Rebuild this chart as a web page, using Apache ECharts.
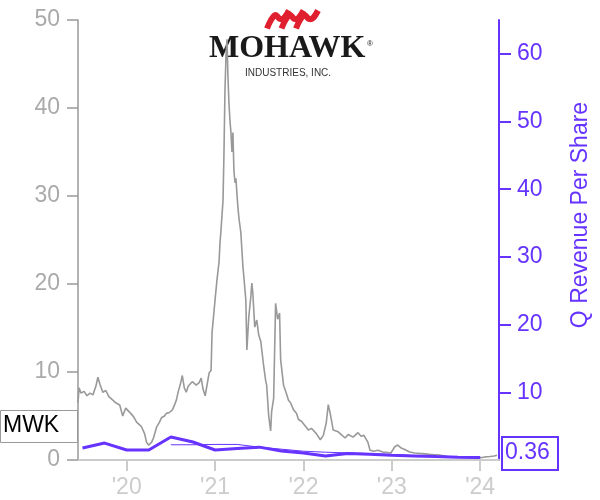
<!DOCTYPE html>
<html>
<head>
<meta charset="utf-8">
<script src="https://cdn.jsdelivr.net/npm/echarts@6/dist/echarts.min.js"></script>
<style>html,body{margin:0;padding:0;background:#fff}#c{width:600px;height:500px}</style>
</head>
<body>
<div id="c"></div>
<script>
// ---- data (x values are decimal years) ----
const ticker = 'MWK';
const yearTicks = [2020, 2021, 2022, 2023, 2024];
const xStart = 2019.449;
const xEnd = 2024.213;
const priceYears = [
 2019.449,2019.461,2019.483,2019.517,2019.551,2019.584,2019.618,2019.652,2019.674,2019.697,
 2019.730,2019.764,2019.798,2019.843,2019.876,2019.921,2019.955,2019.989,2020.011,2020.045,
 2020.079,2020.112,2020.146,2020.169,2020.202,2020.225,2020.247,2020.258,2020.281,2020.303,
 2020.337,2020.371,2020.393,2020.427,2020.449,2020.483,2020.517,2020.539,2020.562,2020.584,
 2020.607,2020.629,2020.652,2020.674,2020.697,2020.719,2020.742,2020.764,2020.787,2020.820,
 2020.843,2020.865,2020.888,2020.910,2020.933,2020.955,2020.966,2020.989,2021.000,2021.022,
 2021.045,2021.056,2021.067,2021.090,2021.101,2021.112,2021.124,2021.135,2021.146,2021.157,
 2021.169,2021.180,2021.191,2021.202,2021.213,2021.225,2021.236,2021.247,2021.258,2021.270,
 2021.292,2021.315,2021.326,2021.348,2021.360,2021.382,2021.404,2021.416,2021.427,2021.449,
 2021.472,2021.494,2021.517,2021.551,2021.573,2021.584,2021.607,2021.629,2021.640,2021.663,
 2021.685,2021.708,2021.730,2021.742,2021.775,2021.809,2021.831,2021.854,2021.888,2021.921,
 2021.944,2021.978,2022.000,2022.034,2022.056,2022.090,2022.112,2022.146,2022.191,2022.225,
 2022.258,2022.281,2022.303,2022.337,2022.393,2022.438,2022.472,2022.506,2022.562,2022.618,
 2022.652,2022.685,2022.730,2022.753,2022.798,2022.843,2022.899,2022.955,2022.989,2023.034,
 2023.067,2023.101,2023.146,2023.202,2023.258,2023.315,2023.382,2023.427,2023.483,2023.517,
 2023.573,2023.629,2023.685,2023.742,2023.820,2023.876,2023.944,2024.000,2024.056,2024.112,
 2024.157,2024.191
];
const priceValues = [
 6.5,8.2,7.6,7.8,7.3,7.6,7.4,8.4,9.4,8.6,
 7.7,7.9,7.2,6.8,6.5,6.25,5.0,5.9,6.0,5.3,
 4.9,4.3,4.0,3.75,3.0,2.0,1.7,1.5,2.0,2.5,
 3.7,4.3,4.8,5.0,5.3,5.4,5.7,6.2,6.8,7.8,
 8.6,9.6,8.2,7.7,8.4,8.2,8.9,9.1,8.5,8.8,
 9.3,8.0,7.3,7.2,9.9,10.2,14.5,17.0,18.2,20.5,
 22.5,24.7,26.1,29.5,35,42,46,47.8,43.5,40.6,
 38.5,37.2,35,37.2,33,31.5,32,30.3,28.8,27.5,
 25.8,22.0,20.8,18.2,12.5,16.3,18.5,20.1,19.0,15.1,
 15.9,14.2,13.5,10.6,9.0,8.5,5.0,3.3,5.5,7.0,
 17.8,16.0,16.7,11.4,8.5,7.5,6.8,6.5,5.7,5.3,
 4.6,4.4,4.2,3.7,3.4,3.6,3.75,3.0,2.3,2.8,
 4.2,6.3,5.3,3.4,3.2,2.8,2.5,2.9,2.6,3.1,
 2.7,2.8,2.0,1.1,1.0,1.1,0.9,0.85,0.8,1.5,
 1.7,1.4,1.2,0.9,0.8,0.75,0.7,0.65,0.6,0.6,
 0.5,0.4,0.35,0.35,0.3,0.25,0.25,0.25,0.35,0.4,
 0.45,0.55
];
const revYears = [2019.5,2019.75,2020.0,2020.25,2020.5,2020.75,2021.0,2021.25,2021.5,2021.75,
                  2022.0,2022.25,2022.5,2022.75,2023.0,2023.25,2023.5,2023.75,2024.0];
const revValues = [1.77,2.5,1.48,1.48,3.4,2.66,1.48,1.7,1.9,1.33,
                   1.03,0.6,0.95,0.85,0.7,0.6,0.5,0.42,0.36];
const revThinYears = [2020.5,2020.75,2021.0,2021.25,2021.5,2021.75,2022.0,2022.25,2022.5,2022.75,
                      2023.0,2023.25,2023.5,2023.75,2024.0];
const revThinValues = [2.25,2.25,2.3,2.3,1.9,1.6,1.3,1.15,1.05,0.95,
                       0.8,0.65,0.55,0.45,0.38];

const PURPLE = '#6633ff';
const pair = (xs, ys) => xs.map((x, i) => [x, ys[i]]);
const chart = echarts.init(document.getElementById('c'), null, {renderer: 'canvas'});
const FONT = 'Liberation Sans, Arial, sans-serif';
const wave = (dx) => ({
  type: 'polyline', silent: true,
  shape: {points: [[267 + dx, 28.5], [271 + dx, 20], [275.5 + dx, 15], [280 + dx, 19], [284 + dx, 18], [289 + dx, 10.5]], smooth: 0.35},
  style: {stroke: '#e0202f', lineWidth: 6, fill: null}
});

chart.setOption({
  animation: false,
  grid: {left: 78, right: 98, top: 20, bottom: 40, containLabel: false},
  xAxis: {
    type: 'value', min: xStart, max: xEnd,
    splitLine: {show: false},
    axisLine: {lineStyle: {color: '#cccccc', width: 2}},
    axisTick: {customValues: yearTicks, length: 11, lineStyle: {color: '#cccccc', width: 2}},
    axisLabel: {customValues: yearTicks, color: '#cccccc', fontSize: 23, fontFamily: FONT, margin: 16,
      formatter: v => "'" + String(Math.round(v)).slice(2)}
  },
  yAxis: [{
    type: 'value', min: 0, max: 50, interval: 10, position: 'left',
    splitLine: {show: false},
    axisLine: {show: true, lineStyle: {color: '#999999', width: 1.5}},
    axisTick: {show: true, length: 11, lineStyle: {color: '#999999', width: 1.5}},
    axisLabel: {color: '#aaaaaa', fontSize: 23, fontFamily: FONT, margin: 18}
  }, {
    type: 'value', min: 0, max: 65, interval: 10, position: 'right',
    name: 'Q Revenue Per Share', nameLocation: 'middle', nameGap: 70,
    nameTextStyle: {color: PURPLE, fontSize: 23, fontFamily: FONT, padding: [0, 0, 0, 50]},
    splitLine: {show: false},
    axisLine: {show: true, lineStyle: {color: PURPLE, width: 2}},
    axisTick: {show: true, length: 12, lineStyle: {color: PURPLE, width: 2}},
    axisLabel: {color: PURPLE, fontSize: 23, fontFamily: FONT, margin: 18, showMaxLabel: false, showMinLabel: false}
  }],
  series: [{
    type: 'line', yAxisIndex: 0, showSymbol: false, z: 2,
    data: pair(priceYears, priceValues),
    lineStyle: {color: '#999999', width: 1.6}
  }, {
    type: 'line', yAxisIndex: 1, showSymbol: false, z: 3,
    data: pair(revYears, revValues),
    lineStyle: {color: PURPLE, width: 3}
  }, {
    type: 'line', yAxisIndex: 1, showSymbol: false, z: 4,
    data: pair(revThinYears, revThinValues),
    lineStyle: {color: PURPLE, width: 1}
  }],
  graphic: [
    // logo
    {type: 'group', z: 0, silent: true, children: [
      wave(0), wave(14.5), wave(29),
      {type: 'text', left: 209, top: 33, style: {text: 'MOHAWK', font: 'bold 32px "Liberation Serif", serif', fill: '#1a1a1a'}},
      {type: 'text', left: 367, top: 40, style: {text: '®', font: '8px "Liberation Sans", sans-serif', fill: '#1a1a1a'}},
      {type: 'text', left: 245, top: 68, style: {text: 'INDUSTRIES, INC.', font: '10px "Liberation Sans", sans-serif', fill: '#333333'}}
    ]},
    // ticker box
    {type: 'group', zlevel: 1, children: [
      {type: 'rect', shape: {x: 0.5, y: 410.5, width: 77, height: 32}, style: {fill: '#ffffff', stroke: '#999999', lineWidth: 1}},
      {type: 'text', left: 3, top: 414, style: {text: ticker, font: '23px "Liberation Sans", sans-serif', fill: '#000000'}}
    ]},
    // last value box
    {type: 'group', zlevel: 1, children: [
      {type: 'rect', shape: {x: 502, y: 437, width: 56, height: 33}, style: {fill: '#ffffff', stroke: PURPLE, lineWidth: 2}},
      {type: 'text', left: 505, top: 441, style: {text: revValues[revValues.length - 1].toFixed(2), font: '23px "Liberation Sans", sans-serif', fill: PURPLE}}
    ]}
  ]
});
</script>
</body>
</html>
